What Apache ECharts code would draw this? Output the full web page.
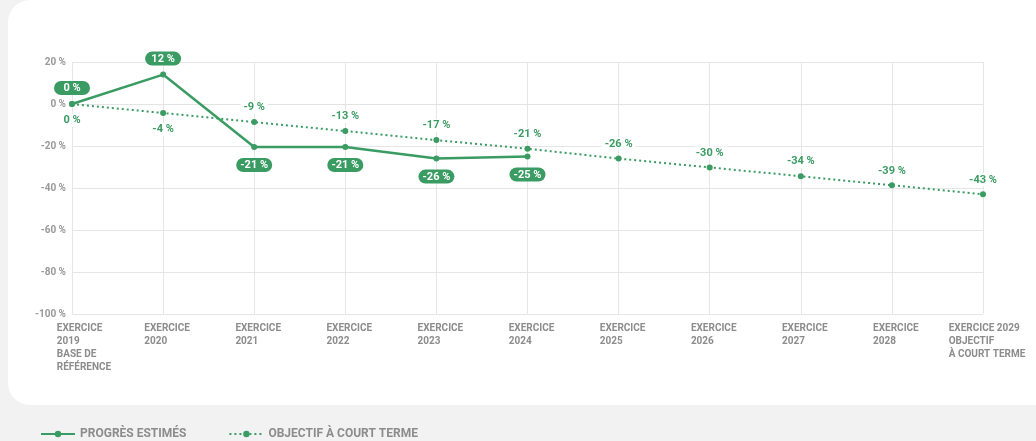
<!DOCTYPE html>
<html>
<head>
<meta charset="utf-8">
<script src="https://cdn.jsdelivr.net/npm/echarts@6/dist/echarts.min.js"></script>
<style>
    html, body {margin: 0; padding: 0; background: #f2f2f2;}
    #chart {width: 1036px; height: 441px;}
</style>
</head>
<body>
<div id="chart"></div>
<script>
    const categories = [
        'EXERCICE\n2019\nBASE DE\nRÉFÉRENCE', 'EXERCICE\n2020', 'EXERCICE\n2021', 'EXERCICE\n2022',
        'EXERCICE\n2023', 'EXERCICE\n2024', 'EXERCICE\n2025', 'EXERCICE\n2026', 'EXERCICE\n2027',
        'EXERCICE\n2028', 'EXERCICE 2029\nOBJECTIF\nÀ COURT TERME'
    ];
    // positions, textes des étiquettes à part
    const progres = [0, 14, -20.5, -20.5, -26, -25];
    const progresLabels = ['0 %', '12 %', '-21 %', '-21 %', '-26 %', '-25 %'];
    const objectif = [0, -4.3, -8.6, -12.9, -17.2, -21.3, -26, -30.2, -34.4, -38.7, -43];
    const objectifLabels = ['0 %', '-4 %', '-9 %', '-13 %', '-17 %', '-21 %', '-26 %', '-30 %', '-34 %', '-39 %', '-43 %'];
    const yMin = -100, yMax = 20, yStep = 20;

    const green = '#3a9b63';
    const grey = '#8c8c8c';
    const font = 'Roboto, sans-serif';

    const chart = echarts.init(document.getElementById('chart'));

    const progresData = progres.map((v, i) => ({
        value: v,
        label: i < 2
            ? {position: 'top', distance: 6, formatter: progresLabels[i]}
            : {position: 'bottom', distance: 8, formatter: progresLabels[i]}
    }));
    const objectifData = objectif.map((v, i) => ({
        value: v,
        label: i < 2
            ? {position: 'bottom', distance: 7, formatter: objectifLabels[i]}
            : {position: 'top', distance: 5, formatter: objectifLabels[i]}
    }));
    // le premier libellé est un peu décalé vers la droite
    const catData = categories.map((c, i) => i === 0
        ? {value: c, textStyle: {padding: [0, 0, 0, 24]}}
        : c);

    const option = {
        animation: false,
        backgroundColor: '#f2f2f2',
        textStyle: {fontFamily: font},
        graphic: [{
            type: 'rect', z: -100, silent: true,
            shape: {x: 8, y: 0, width: 1060, height: 405, r: 22},
            style: {fill: '#ffffff'}
        }],
        grid: {left: 72, right: 53, top: 62, bottom: 127},
        legend: {
            left: 35, top: 423,
            itemWidth: 34, itemHeight: 8, itemGap: 42,
            textStyle: {color: grey, fontSize: 12, fontWeight: 'bold', fontFamily: font},
            data: ['PROGRÈS ESTIMÉS', 'OBJECTIF À COURT TERME']
        },
        xAxis: {
            type: 'category',
            data: catData,
            boundaryGap: false,
            axisTick: {show: false},
            axisLine: {lineStyle: {color: '#e3e3e3', width: 1}},
            splitLine: {show: true, lineStyle: {color: '#e6e6e6'}},
            axisLabel: {
                interval: 0,
                margin: 8,
                align: 'center',
                padding: [0, 0, 0, 8],
                formatter: v => v.split('\n').map(s => '{a|' + s + '}').join('\n'),
                rich: {
                    a: {align: 'left', color: grey, fontSize: 10, fontWeight: 'bold', lineHeight: 13, fontFamily: font}
                }
            }
        },
        yAxis: {
            type: 'value',
            min: yMin, max: yMax, interval: yStep,
            axisLine: {show: false},
            axisTick: {show: false},
            splitLine: {lineStyle: {color: '#e6e6e6'}},
            axisLabel: {
                margin: 6,
                color: '#999999', fontSize: 10, fontWeight: 'bold',
                formatter: v => v + ' %'
            }
        },
        series: [{
            name: 'PROGRÈS ESTIMÉS',
            type: 'line',
            data: progresData,
            symbol: 'circle', symbolSize: 6,
            z: 4,
            itemStyle: {color: green},
            lineStyle: {color: green, width: 2.5},
            label: {
                show: true,
                color: '#fff', fontSize: 11, fontWeight: 'bold',
                backgroundColor: green, borderRadius: 7,
                width: 36, align: 'center', padding: [2, 0, 1, 0], lineHeight: 11
            }
        }, {
            name: 'OBJECTIF À COURT TERME',
            type: 'line',
            data: objectifData,
            symbol: 'circle', symbolSize: 6,
            z: 3,
            itemStyle: {color: green},
            lineStyle: {color: green, width: 2, type: [2, 3]},
            label: {
                show: true,
                color: green, fontSize: 11, fontWeight: 'bold',
                backgroundColor: '#fff', padding: [1, 3]
            }
        }]
    };
    chart.setOption(option);
</script>
</body>
</html>
